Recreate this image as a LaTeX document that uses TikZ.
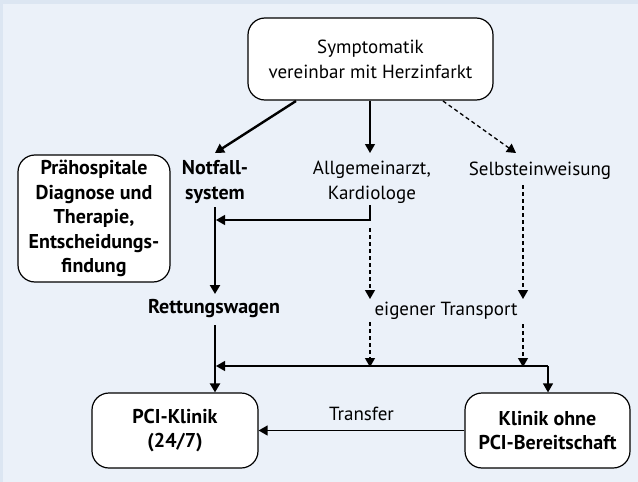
\documentclass[tikz,border=0pt]{standalone}
\usepackage{fontspec}
\setmainfont{PT Sans}
\usetikzlibrary{arrows.meta,calc}
\definecolor{bgouter}{HTML}{DCE6F2}
\definecolor{bginner}{HTML}{EBF1F9}
\begin{document}
\begin{tikzpicture}[x=1pt,y=-1pt,
  every node/.style={font=\fontsize{19}{25}\selectfont, inner sep=0pt},
  rbox/.style={draw, line width=1.2pt, rounded corners=17pt, fill=white, align=center},
  lbl/.style={align=center},
  bfnt/.style={font=\fontsize{20}{24.5}\selectfont\bfseries},
  bl/.style={align=center, bfnt},
  tip/.style={-{Triangle[length=9pt,width=10pt]}},
  thickln/.style={line width=2.4pt, tip},
  thinln/.style={line width=1.3pt, tip},
  dashln/.style={line width=1.3pt, dash pattern=on 4pt off 3pt, tip}]
\fill[bgouter] (0,0) rectangle (638,482);
\fill[bginner] (3,4) rectangle (638,482);
\useasboundingbox (0,0) rectangle (638,482);

\node[rbox, minimum width=245pt, minimum height=82pt] (top) at (370.5,59) {Symptomatik\\vereinbar mit Herzinfarkt};
\node[bl] (notf) at (215,182) {Notfall-\\system};
\node[lbl] (allg) at (372,182) {Allgemeinarzt,\\Kardiologe};
\node[lbl] (selb) at (540,171) {Selbsteinweisung};
\node[rbox, bfnt, minimum width=152pt, minimum height=127pt] (prae) at (94,218.5) {Prähospitale\\Diagnose und\\Therapie,\\Entscheidungs-\\findung};
\node[bl] (rett) at (214,309) {Rettungswagen};
\node[lbl] (eig) at (446,311) {eigener Transport};
\node[rbox, bfnt, minimum width=166pt, minimum height=75pt] (pci) at (175,430.5) {PCI-Klinik\\(24/7)};
\node[rbox, bfnt, minimum width=165pt, minimum height=75pt] (kli) at (547.5,430.5) {Klinik ohne\\PCI-Bereitschaft};

\coordinate (a1) at (296,101);
\coordinate (a1e) at (215,153);
\coordinate (a2e) at (370,153);
\coordinate (a3) at (443,101);
\coordinate (a3e) at (516,153);
\coordinate (n1) at (215,207);
\coordinate (n1e) at (215,294);
\coordinate (k1) at (370,205);
\coordinate (k2) at (370,220);
\coordinate (k3) at (216,220);
\coordinate (d1) at (370,228);
\coordinate (d1e) at (370,299);
\coordinate (s1) at (523,185);
\coordinate (s1e) at (523,299);
\coordinate (d2) at (370,322);
\coordinate (d2e) at (370,367);
\coordinate (s2) at (523,324);
\coordinate (s2e) at (523,367);
\coordinate (h1) at (548,366);
\coordinate (h2) at (216,366);
\coordinate (r1) at (215,325);

\draw[thickln] (a1) -- (a1e);
\draw[thinln] (top.south -| a2e) -- (a2e);
\draw[dashln] (a3) -- (a3e);
\draw[thickln] (n1) -- (n1e);
\draw[thinln] (k1) -- (k2) -- (k3);
\draw[dashln] (d1) -- (d1e);
\draw[dashln] (s1) -- (s1e);
\draw[dashln] (d2) -- (d2e);
\draw[dashln] (s2) -- (s2e);
\draw[thinln] (h1) -- (h2);
\draw[thinln] (h1) -- (kli.north -| h1);
\draw[thickln] (r1) -- (pci.north -| r1);
\draw[thinln] (kli.west) -- node[above=9pt] {Transfer} (pci.east);
\end{tikzpicture}
\end{document}
